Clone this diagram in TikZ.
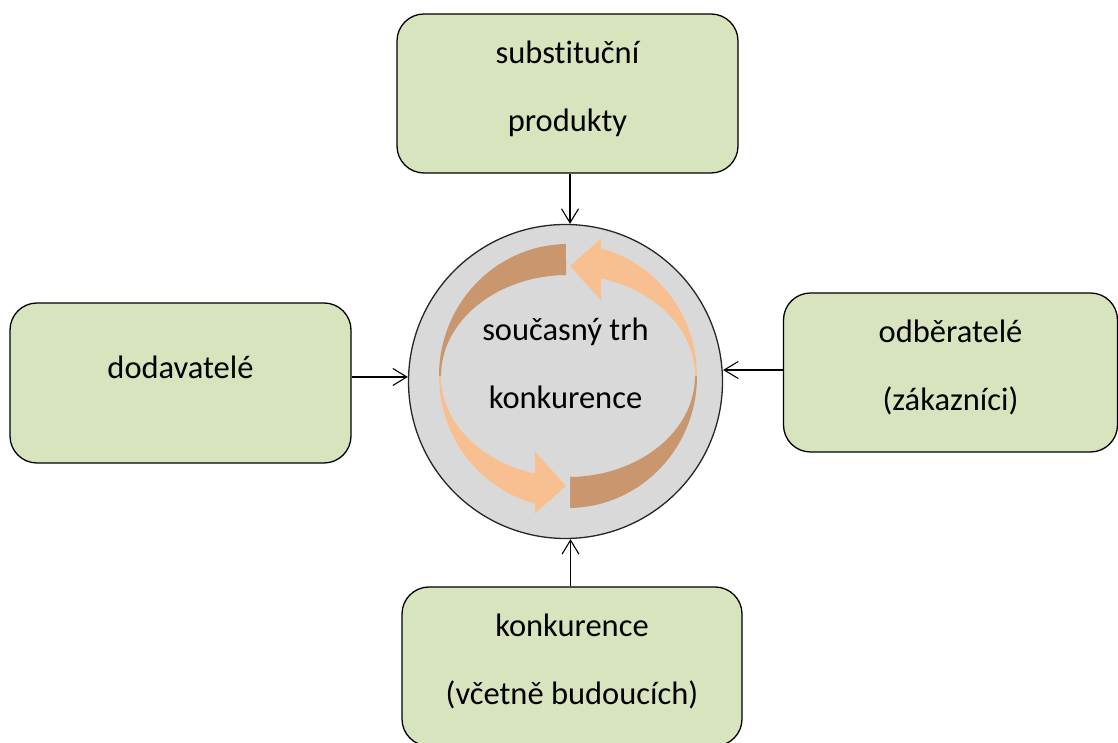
\documentclass[tikz,border=0pt]{standalone}
\usepackage{fontspec}
\setmainfont{Carlito}[Ligatures=NoCommon]
\usetikzlibrary{arrows.meta,calc}
\definecolor{boxgreen}{RGB}{215,228,189}
\definecolor{coregray}{RGB}{217,217,217}
\definecolor{arcdark}{RGB}{201,150,110}
\definecolor{arclight}{RGB}{248,192,144}
\begin{document}
\begin{tikzpicture}[x=1pt,y=1pt,
  box/.style={draw=black,line width=1.3pt,fill=boxgreen,rounded corners=27pt,inner sep=0pt,
    align=center,font=\fontsize{32.5}{68}\selectfont},
  conn/.style={line width=1.1pt,-{Straight Barb[length=14pt,width=17pt,line width=1.1pt]}}]
\useasboundingbox (0,0) rectangle (1118,743);
% Drawing the market in the middle
\node[circle,draw=black!85,line width=1.3pt,fill=coregray,minimum size=314pt,inner sep=0pt,
  align=center,font=\fontsize{32.5}{68}\selectfont,text height=68pt,text depth=14.6pt]
  (core) at (565.5,361.5) {současný trh\\konkurence};
% Drawing the two round arrows
\begin{scope}[shift={(568,367)}]
\fill[arcdark] (90.9:129 and 132) arc[start angle=90.9,end angle=180,x radius=129,y radius=132]
  -- (180:127 and 101) arc[start angle=180,end angle=90.9,x radius=127,y radius=101] -- cycle;
\fill[arclight] (180:129 and 132) arc[start angle=180,end angle=255.2,x radius=129,y radius=132]
  -- (-33,-137.3) -- (-2,-110) -- (-33,-75.7)
  -- (254.9:127 and 101) arc[start angle=254.9,end angle=180,x radius=127,y radius=101] -- cycle;
\fill[arcdark] (270.9:129 and 132) arc[start angle=270.9,end angle=360,x radius=129,y radius=132]
  -- (0:127 and 101) arc[start angle=360,end angle=270.9,x radius=127,y radius=101] -- cycle;
\fill[arclight] (0:129 and 132) arc[start angle=0,end angle=75.2,x radius=129,y radius=132]
  -- (33,137.3) -- (2,110) -- (33,75.7)
  -- (74.9:127 and 101) arc[start angle=74.9,end angle=0,x radius=127,y radius=101] -- cycle;
\end{scope}
% Drawing the four forces
\node[box,minimum width=341pt,minimum height=159pt,text height=90pt,text depth=14.6pt]
  (subst) at (567.5,649.5) {substituční\\produkty};
\node[box,minimum width=341pt,minimum height=160pt,text height=10pt,text depth=18pt]
  (dodav) at (180.5,360) {dodavatelé};
\node[box,minimum width=334pt,minimum height=159pt,text height=90pt,text depth=14.6pt]
  (odber) at (950.5,370.5) {odběratelé\\(zákazníci)};
\node[box,minimum width=340pt,minimum height=159pt,text height=90pt,text depth=14.6pt]
  (konku) at (572,76.5) {konkurence\\(včetně budoucích)};
% Drawing connectors
\draw[conn] ($(subst.south)+(2.5,0)$) -- ($(subst.south |- core.north)+(2.5,0)$);
\draw[conn] ($(dodav.east)+(0,6)$) -- ($(dodav.east -| core.west)+(0,6)$);
\draw[conn] ($(odber.west)+(0,2.5)$) -- ($(odber.west -| core.east)+(0,2.5)$);
\draw[conn] ($(konku.north)+(-1.5,0)$) -- ($(konku.north |- core.south)+(-1.5,0)$);
\end{tikzpicture}
\end{document}
